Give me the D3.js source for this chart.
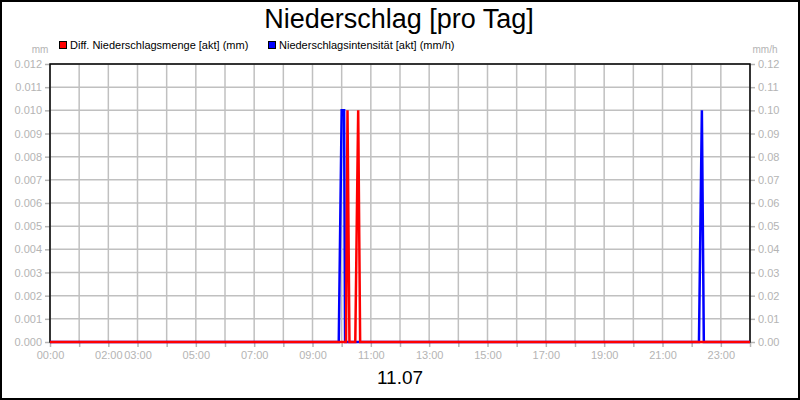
<!DOCTYPE html>
<html><head><meta charset="utf-8">
<script src="https://cdn.jsdelivr.net/npm/d3@7"></script>
<style>
html,body{margin:0;padding:0;background:#fff;}
svg{display:block;font-family:"Liberation Sans",Arial,sans-serif;}
</style></head>
<body>
<svg id="chart" width="800" height="400"></svg>
<script>
const title = "Niederschlag [pro Tag]";
const dateLabel = "11.07";
const seriesNames = ["Diff. Niederschlagsmenge [akt] (mm)", "Niederschlagsintensität [akt] (mm/h)"];
const seriesColors = ["#ff0000", "#0000ff"];
const leftUnit = "mm";
const rightUnit = "mm/h";
// times in minutes after midnight
const redTimes = [0, 609, 612, 616, 628, 634, 638, 1440];
const redValues = [0, 0, 0.01, 0, 0, 0.01, 0, 0];
const blueTimes = [0, 594, 600, 605, 607, 1335, 1341, 1345, 1440];
const blueValues = [0, 0, 0.1, 0.1, 0, 0, 0.1, 0, 0];
const hourTicks = d3.range(0, 25);
const labeledHours = [0, 2, 3, 5, 7, 9, 11, 13, 15, 17, 19, 21, 23];
const leftTicks = d3.range(0, 13).map(i => i / 1000);
const rightTicks = d3.range(0, 13).map(i => i / 100);

const svg = d3.select("#chart");
const L = 50, R = 750, T = 64, B = 342;
const x = d3.scaleLinear().domain([0, 24]).range([L, R]);
const yL = d3.scaleLinear().domain([0, 0.012]).range([B, T]);
const yR = d3.scaleLinear().domain([0, 0.12]).range([B, T]);
const gray = "#b4b4b4";

svg.append("rect").attr("x", 1).attr("y", 1).attr("width", 798).attr("height", 398)
  .attr("fill", "#fff").attr("stroke", "#000").attr("stroke-width", 2);

// grid
const grid = svg.append("g");
grid.selectAll(".vg").data(hourTicks).join("line")
  .attr("x1", d => x(d)).attr("x2", d => x(d)).attr("y1", T).attr("y2", B)
  .attr("stroke", "#c0c0c0").attr("stroke-width", 1.5);
grid.selectAll(".hg").data(leftTicks).join("line")
  .attr("x1", L).attr("x2", R).attr("y1", d => yL(d)).attr("y2", d => yL(d))
  .attr("stroke", "#c0c0c0").attr("stroke-width", 1.5);

// axes
const axL = svg.append("g").attr("transform", `translate(${L},0)`)
  .call(d3.axisLeft(yL).tickValues(leftTicks).tickFormat(d3.format(".3f")).tickSize(5).tickPadding(3));
const axR = svg.append("g").attr("transform", `translate(${R},0)`)
  .call(d3.axisRight(yR).tickValues(rightTicks).tickFormat(d3.format(".2f")).tickSize(5).tickPadding(3));
const axB = svg.append("g").attr("transform", `translate(0,${B})`)
  .call(d3.axisBottom(x).tickValues(hourTicks)
    .tickFormat(d => labeledHours.includes(d) ? String(d).padStart(2, "0") + ":00" : "")
    .tickSize(5).tickPadding(4));
[axL, axR, axB].forEach(a => {
  a.select(".domain").remove();
  a.selectAll(".tick line").attr("stroke", gray).attr("stroke-width", 1.5);
  a.selectAll(".tick text").attr("fill", gray).style("font-size", "11px")
    .style("font-family", '"Liberation Sans",Arial,sans-serif');
});

// plot frame
svg.append("rect").attr("x", L).attr("y", T).attr("width", R - L).attr("height", B - T)
  .attr("fill", "none").attr("stroke", "#000").attr("stroke-width", 1.5);

// lines
const blueData = blueTimes.map((t, i) => ({ h: t / 60, v: blueValues[i] }));
const redData = redTimes.map((t, i) => ({ h: t / 60, v: redValues[i] }));
svg.append("path").datum(blueData).attr("fill", "none").attr("stroke", seriesColors[1])
  .attr("stroke-width", 2.5).attr("stroke-linejoin", "miter")
  .attr("d", d3.line().x(d => x(d.h)).y(d => yR(d.v)));
svg.append("path").datum(redData).attr("fill", "none").attr("stroke", seriesColors[0])
  .attr("stroke-width", 2.5).attr("stroke-linejoin", "miter")
  .attr("d", d3.line().x(d => x(d.h)).y(d => yL(d.v)));

// title
svg.append("text").attr("x", 399).attr("y", 28).attr("text-anchor", "middle")
  .style("font-size", "27px").attr("fill", "#000").text(title);
svg.append("text").attr("x", 400).attr("y", 384).attr("text-anchor", "middle")
  .style("font-size", "19px").attr("fill", "#000").text(dateLabel);

// units
svg.append("text").attr("x", 40).attr("y", 52.5).attr("text-anchor", "middle")
  .style("font-size", "10px").attr("fill", gray).text(leftUnit);
svg.append("text").attr("x", 765).attr("y", 52.5).attr("text-anchor", "middle")
  .style("font-size", "10px").attr("fill", gray).text(rightUnit);

// legend
const legX = [59, 268];
seriesNames.forEach((n, i) => {
  svg.append("rect").attr("x", legX[i] + 0.5).attr("y", 41.5).attr("width", 7).attr("height", 7)
    .attr("fill", seriesColors[i]).attr("stroke", "#000").attr("stroke-width", 1);
  svg.append("text").attr("x", legX[i] + 11).attr("y", 48.5)
    .style("font-size", "11px").attr("fill", "#000").text(n);
});
</script>
</body></html>
